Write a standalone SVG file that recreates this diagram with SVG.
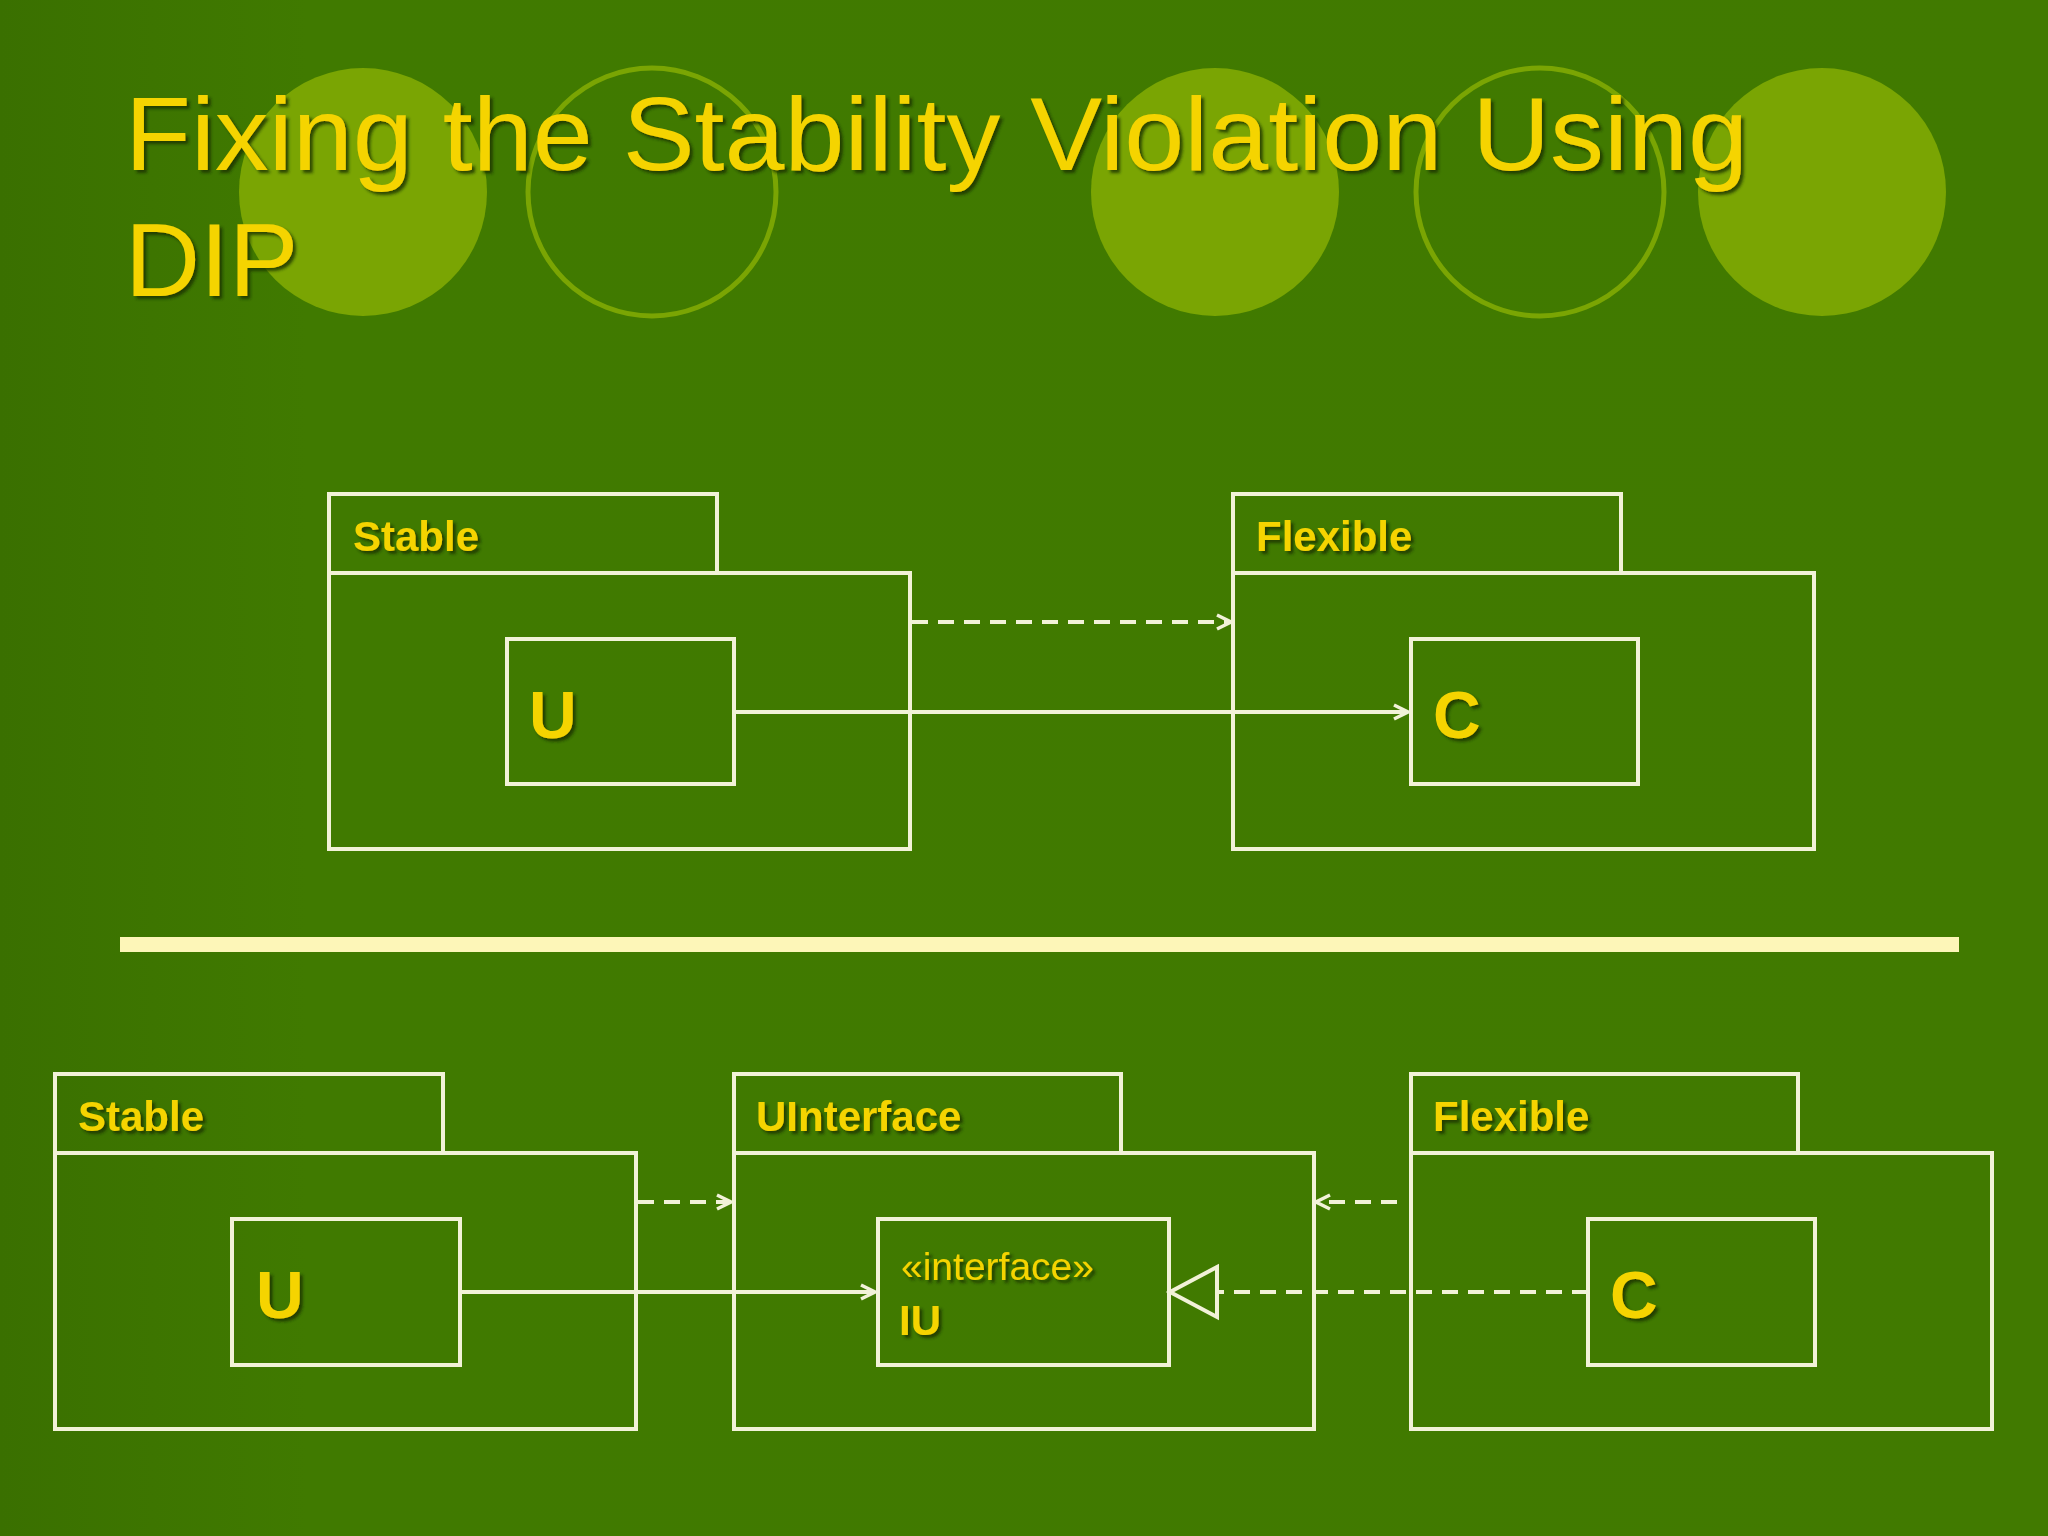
<svg xmlns="http://www.w3.org/2000/svg" width="2048" height="1536" viewBox="0 0 2048 1536">
<defs>
<style>
.box{fill:none;stroke:#f2f2d8;stroke-width:4}
.ln{fill:none;stroke:#f2f2d8;stroke-width:4}
.dash{stroke-dasharray:16 10}
.lbl{font-family:"Liberation Sans",Arial,sans-serif;font-weight:bold;fill:#f5d400;font-size:42px;filter:url(#sh)}
.big{font-size:66px}
.circF{fill:#7aa503}
.circO{fill:none;stroke:#7aa503;stroke-width:5}
</style>
<filter id="sh" x="-10%" y="-10%" width="130%" height="140%"><feDropShadow dx="3" dy="3" stdDeviation="1.5" flood-color="#1a3000" flood-opacity="0.8"/></filter>
<marker id="open" viewBox="0 0 20 20" refX="18" refY="10" markerWidth="20" markerHeight="20" markerUnits="userSpaceOnUse" orient="auto"><path d="M4,3 L18,10 L4,17" fill="none" stroke="#f2f2d8" stroke-width="3.5"/></marker>
<linearGradient id="bg" x1="0" x2="1" y1="0" y2="0"><stop offset="0" stop-color="#3a7000"/><stop offset="0.15" stop-color="#407a00"/><stop offset="1" stop-color="#417a00"/></linearGradient>
</defs>
<rect width="2048" height="1536" fill="url(#bg)"/>
<g id="decor">
<circle class="circF" cx="363" cy="192" r="124"/>
<circle class="circO" cx="652" cy="192" r="124"/>
<circle class="circF" cx="1215" cy="192" r="124"/>
<circle class="circO" cx="1540" cy="192" r="124"/>
<circle class="circF" cx="1822" cy="192" r="124"/>
</g>
<g id="title" font-family="Liberation Sans,Arial,sans-serif" font-size="104" fill="#f5d400" filter="url(#sh)">
<text x="125" y="170" textLength="1623" lengthAdjust="spacingAndGlyphs">Fixing the Stability Violation Using</text>
<text x="125" y="296">DIP</text>
</g>
<rect id="separator" x="120" y="937" width="1839" height="15" fill="#fdf6b8"/>
<g id="top-stable">
<rect class="box" x="329" y="494" width="388" height="79"/>
<rect class="box" x="329" y="573" width="581" height="276"/>
<text class="lbl" x="353" y="551">Stable</text>
</g>
<g id="top-U"><rect class="box" x="507" y="639" width="227" height="145"/><text class="lbl big" x="529" y="738">U</text></g>
<g id="top-flexible">
<rect class="box" x="1233" y="494" width="388" height="79"/>
<rect class="box" x="1233" y="573" width="581" height="276"/>
<text class="lbl" x="1256" y="551">Flexible</text>
</g>
<g id="top-C"><rect class="box" x="1411" y="639" width="227" height="145"/><text class="lbl big" x="1433" y="738">C</text></g>
<g id="bot-stable">
<rect class="box" x="55" y="1074" width="388" height="79"/>
<rect class="box" x="55" y="1153" width="581" height="276"/>
<text class="lbl" x="78" y="1131">Stable</text>
</g>
<g id="bot-U"><rect class="box" x="232" y="1219" width="228" height="146"/><text class="lbl big" x="256" y="1318">U</text></g>
<g id="bot-uinterface">
<rect class="box" x="734" y="1074" width="387" height="79"/>
<rect class="box" x="734" y="1153" width="580" height="276"/>
<text class="lbl" x="756" y="1131">UInterface</text>
</g>
<g id="bot-IU"><rect class="box" x="878" y="1219" width="291" height="146"/>
<text x="901" y="1280" font-family="Liberation Sans,Arial,sans-serif" font-size="39" fill="#f5d400" filter="url(#sh)">«interface»</text>
<text class="lbl" x="899" y="1335" font-size="40">IU</text></g>
<g id="bot-flexible">
<rect class="box" x="1411" y="1074" width="387" height="79"/>
<rect class="box" x="1411" y="1153" width="581" height="276"/>
<text class="lbl" x="1433" y="1131">Flexible</text>
</g>
<g id="bot-C"><rect class="box" x="1588" y="1219" width="227" height="146"/><text class="lbl big" x="1610" y="1318">C</text></g>
<g id="connectors">
<line class="ln dash" x1="912" y1="622" x2="1231" y2="622" marker-end="url(#open)"/>
<line class="ln" x1="734" y1="712" x2="1408" y2="712" marker-end="url(#open)"/>
<line class="ln dash" x1="638" y1="1202" x2="731" y2="1202" marker-end="url(#open)"/>
<line class="ln dash" x1="1397" y1="1202" x2="1316" y2="1202" marker-end="url(#open)"/>
<line class="ln" x1="460" y1="1292" x2="875" y2="1292" marker-end="url(#open)"/>
<line class="ln dash" x1="1588" y1="1292" x2="1217" y2="1292"/>
<path class="ln" d="M1217,1267 L1170,1292 L1217,1317 Z"/>
</g>
</svg>
